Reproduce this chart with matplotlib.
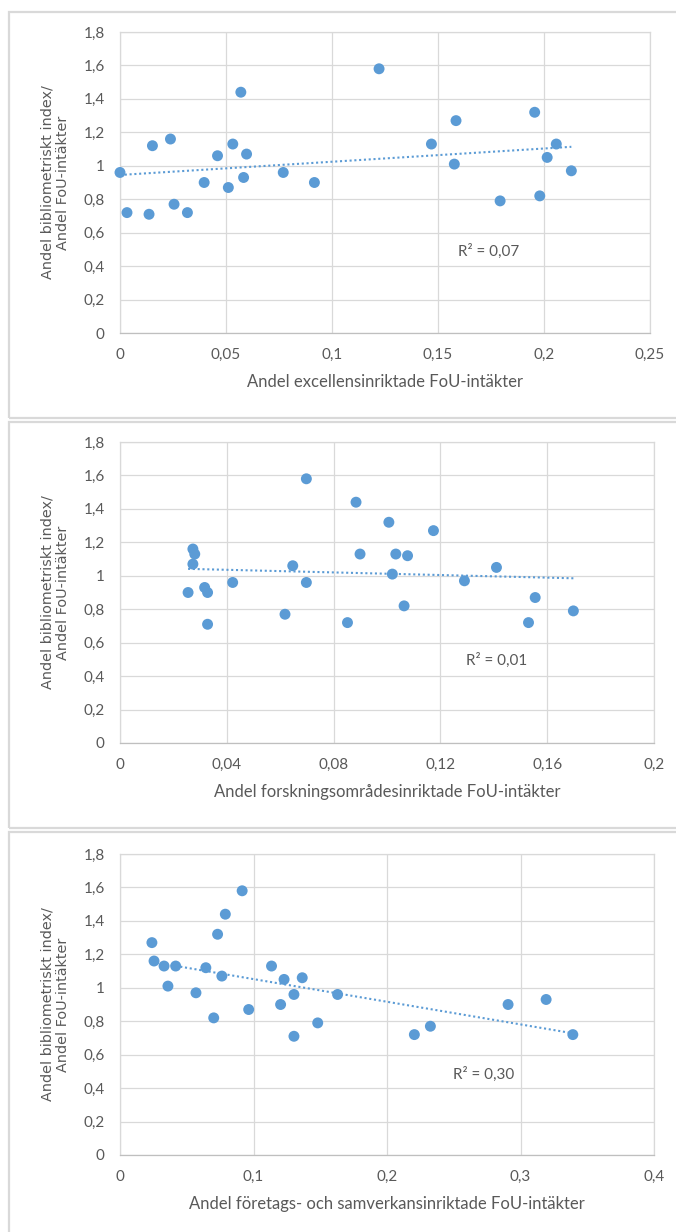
# Spridningsdiagram: bibliometriskt index mot andel FoU-intäkter (tre paneler)
import numpy as np
import matplotlib.pyplot as plt
from matplotlib.patches import Rectangle
from matplotlib.ticker import FuncFormatter

plt.rcParams['font.family'] = ['Lato', 'DejaVu Sans']

# Panel 1 - excellensinriktade FoU-intäkter
x_excellens = [0.0, 0.0033, 0.0137, 0.0153, 0.0238, 0.0255, 0.0318, 0.0397, 0.046, 0.0511,
               0.0532, 0.057, 0.0583, 0.0597, 0.077, 0.0917, 0.1222, 0.1469, 0.1577, 0.1585,
               0.1793, 0.1956, 0.198, 0.2015, 0.2058, 0.2129]
y_excellens = [0.96, 0.72, 0.71, 1.12, 1.16, 0.77, 0.72, 0.90, 1.06, 0.87,
               1.13, 1.44, 0.93, 1.07, 0.96, 0.90, 1.58, 1.13, 1.01, 1.27,
               0.79, 1.32, 0.82, 1.05, 1.13, 0.97]

# Panel 2 - forskningsområdesinriktade FoU-intäkter
x_omrade = [0.0255, 0.0273, 0.028, 0.0273, 0.0317, 0.0328, 0.0328, 0.0422, 0.0618, 0.0647,
            0.0698, 0.0698, 0.0852, 0.0884, 0.0899, 0.1007, 0.102, 0.1033, 0.1064, 0.1077,
            0.1174, 0.129, 0.141, 0.153, 0.1555, 0.1698]
y_omrade = [0.90, 1.16, 1.13, 1.07, 0.93, 0.90, 0.71, 0.96, 0.77, 1.06,
            1.58, 0.96, 0.72, 1.44, 1.13, 1.32, 1.01, 1.13, 0.82, 1.12,
            1.27, 0.97, 1.05, 0.72, 0.87, 0.79]

# Panel 3 - företags- och samverkansinriktade FoU-intäkter
x_samverkan = [0.0239, 0.0255, 0.033, 0.0417, 0.0359, 0.0569, 0.0643, 0.0702, 0.0731, 0.0763,
               0.0789, 0.0915, 0.0964, 0.1135, 0.1203, 0.1229, 0.1303, 0.1303, 0.1365, 0.1481,
               0.163, 0.2205, 0.2325, 0.2907, 0.3192, 0.3392]
y_samverkan = [1.27, 1.16, 1.13, 1.13, 1.01, 0.97, 1.12, 0.82, 1.32, 1.07,
               1.44, 1.58, 0.87, 1.13, 0.90, 1.05, 0.96, 0.71, 1.06, 0.79,
               0.96, 0.72, 0.77, 0.90, 0.93, 0.72]

y_ticks = [0, 0.2, 0.4, 0.6, 0.8, 1.0, 1.2, 1.4, 1.6, 1.8]
x_ticks_excellens = [0, 0.05, 0.1, 0.15, 0.2, 0.25]
x_ticks_omrade = [0, 0.04, 0.08, 0.12, 0.16, 0.2]
x_ticks_samverkan = [0, 0.1, 0.2, 0.3, 0.4]

xlabels = ['Andel excellensinriktade FoU-intäkter',
           'Andel forskningsområdesinriktade FoU-intäkter',
           'Andel företags- och samverkansinriktade FoU-intäkter']
r2_labels = ['R² = 0,07', 'R² = 0,01', 'R² = 0,30']

W, H = 676, 1232
BLUE = '#5B9BD5'
GRID = '#D9D9D9'
TXT = '#595959'


def comma(v, pos=None):
    """Excel-style number with decimal comma"""
    return f'{round(v, 4):g}'.replace('.', ',')


def plot_panel(ax, x, y, xticks, xlabel, r2, r2pos):
    x = np.array(x)
    y = np.array(y)
    ax.set_xlim(xticks[0], xticks[-1])
    ax.set_ylim(y_ticks[0], y_ticks[-1])
    ax.set_xticks(xticks)
    ax.set_yticks(y_ticks)
    ax.xaxis.set_major_formatter(FuncFormatter(comma))
    ax.yaxis.set_major_formatter(FuncFormatter(comma))
    ax.tick_params(length=0, labelsize=11, labelcolor=TXT)
    ax.tick_params(axis='x', pad=11)
    ax.tick_params(axis='y', pad=11)
    ax.grid(True, color=GRID, lw=0.9)
    ax.set_axisbelow(True)
    for s in ax.spines.values():
        s.set_color(GRID)
        s.set_linewidth(0.9)
    ax.spines['bottom'].set_color('#BFBFBF')

    # linear trendline (Excel style, dotted)
    k, m = np.polyfit(x, y, 1)
    xx = np.array([x.min(), x.max()])
    ax.plot(xx, k*xx + m, color=BLUE, lw=1.5, linestyle=(0, (1, 1.3)),
            dash_capstyle='butt', zorder=2)
    ax.scatter(x, y, s=62, color=BLUE, edgecolors='none', zorder=3, clip_on=False)

    ax.text(r2pos[0], r2pos[1], r2, fontsize=11, color=TXT, ha='center', va='center')
    ax.set_xlabel(xlabel, fontsize=12, color=TXT)
    ax.xaxis.set_label_coords(0.5, -0.135)
    ax.text(-0.122, 0.5, 'Andel bibliometriskt index/\nAndel FoU-intäkter',
            transform=ax.transAxes, rotation=90, ha='center', va='center',
            multialignment='center', fontsize=10.4, color=TXT,
            family='DejaVu Sans', linespacing=1.15)


fig = plt.figure(figsize=(W/100, H/100), dpi=100)

# chart frames
for top, bottom in [(12, 418), (422, 828), (832, 1245)]:
    fig.add_artist(Rectangle((8.5/W, 1 - bottom/H), 700/W, (bottom - top)/H,
                             transform=fig.transFigure, fill=False,
                             ec=GRID, lw=1.6))

ax1 = fig.add_axes([120/W, 1 - 333/H, 530/W, 301/H])
ax2 = fig.add_axes([120/W, 1 - 743/H, 534/W, 301/H])
ax3 = fig.add_axes([120/W, 1 - 1155/H, 534/W, 301/H])

plot_panel(ax1, x_excellens, y_excellens, x_ticks_excellens, xlabels[0], r2_labels[0], (0.174, 0.49))
plot_panel(ax2, x_omrade, y_omrade, x_ticks_omrade, xlabels[1], r2_labels[1], (0.141, 0.494))
plot_panel(ax3, x_samverkan, y_samverkan, x_ticks_samverkan, xlabels[2], r2_labels[2], (0.2727, 0.484))

fig.savefig('out.png', dpi=100)
